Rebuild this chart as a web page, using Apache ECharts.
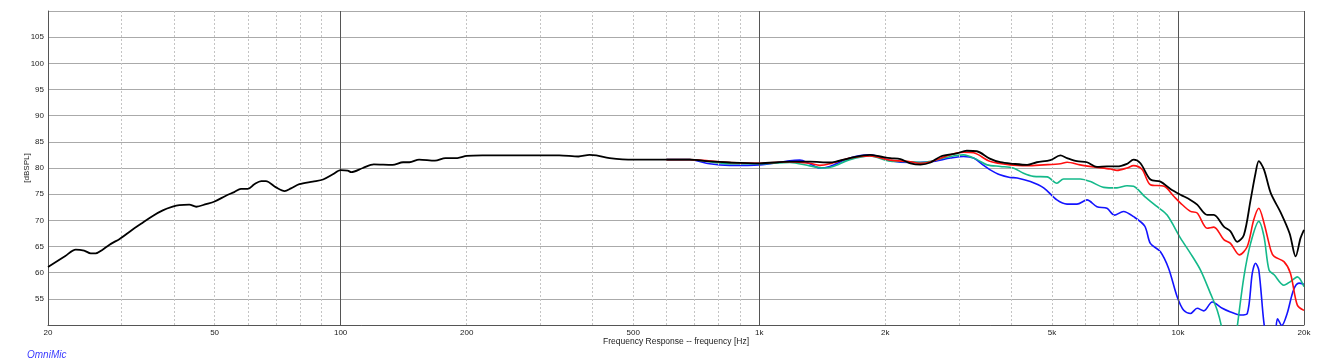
<!DOCTYPE html>
<html><head><meta charset="utf-8">
<script src="https://cdn.jsdelivr.net/npm/echarts@6/dist/echarts.min.js"></script>
<style>html,body{margin:0;padding:0;background:#fff}#c{width:1317px;height:362px}</style>
</head><body><div id="c"></div>
<script>
// ---- data ----
const xTickValues = [20, 50, 100, 200, 500, 1000, 2000, 5000, 10000, 20000];
const xTickLabels = ['20', '50', '100', '200', '500', '1k', '2k', '5k', '10k', '20k'];
const majorGridFreqs = [100, 1000, 10000, 20000];
const minorGridFreqs = [30, 40, 50, 60, 70, 80, 90, 200, 300, 400, 500, 600, 700, 800, 900,
  2000, 3000, 4000, 5000, 6000, 7000, 8000, 9000];

const blackFreq = [20, 22, 23.3, 24.4, 25.3, 26, 27, 28, 29.6, 30, 31.8, 33.6, 35.5, 37.6, 39.7, 41.2, 43.5, 45.2, 47.7, 50,
  53.2, 55.7, 57.8, 60, 62.2, 64.6, 66.3, 70.1, 73.5, 76.1, 79.7, 85.8, 90.8, 95.8, 100, 104, 106, 113, 120, 133, 141, 146,
  154, 168, 178, 190, 200, 218, 246, 286, 300, 333, 370, 393, 408, 439, 500, 558, 623, 682, 761, 850, 1000, 1183, 1320,
  1474, 1646, 1838, 1945, 2056, 2173, 2296, 2427, 2565, 2711, 2963, 3130, 3308, 3552, 3765, 4040, 4363, 4601, 4956, 5238,
  5433, 5738, 6063, 6406, 6768, 7150, 7555, 7834, 8135, 8594, 9080, 9595, 10140, 10710, 11115, 11740, 12180, 12870, 13350,
  13850, 14370, 14910, 15320, 15600, 16050, 16660, 17620, 18480, 19100, 19620, 20000];
const blackSPL = [61.1, 63.2, 64.4, 64.2, 63.7, 63.7, 64.4, 65.3, 66.4, 66.7, 68.2, 69.5, 70.8, 71.9, 72.6, 72.9, 73.0, 72.6, 73.1, 73.6,
  74.7, 75.4, 76.0, 76.0, 76.9, 77.5, 77.5, 76.3, 75.6, 76.1, 76.9, 77.4, 77.8, 78.8, 79.6, 79.5, 79.2, 80.0, 80.7, 80.6, 81.1, 81.1,
  81.6, 81.4, 81.9, 81.9, 82.3, 82.4, 82.4, 82.4, 82.4, 82.4, 82.2, 82.5, 82.4, 81.9, 81.6, 81.6, 81.6, 81.6, 81.25, 81.05, 80.9, 81.2, 81.2,
  81.05, 81.9, 82.5, 82.2, 81.9, 81.7, 80.9, 80.65, 81.05, 82.2, 82.8, 83.3, 83.2, 81.8, 81.1, 80.8, 80.6, 81.1, 81.5, 82.4,
  81.9, 81.3, 81.1, 80.2, 80.3, 80.3, 80.8, 81.6, 80.9, 77.8, 77.4, 76.0, 74.9, 73.9, 73.0, 71.05, 71.05, 68.8, 67.9,
  65.9, 67.2, 73.9, 79.0, 81.3, 79.7, 75.2, 71.4, 67.5, 63.1, 66.6, 68.2];

const redFreq = [600, 682, 850, 1000, 1183, 1320, 1394, 1474, 1646, 1838, 2056, 2296, 2427, 2565, 2864, 3074, 3250, 3552, 3976,
  4363, 4777, 5238, 5433, 5835, 6299, 6896, 7150, 7555, 7834, 8212, 8594, 9270, 9785, 10140, 10710, 11115, 11740, 12180, 12870,
  13350, 14020, 14640, 15170, 15600, 16050, 16660, 16970, 17910, 18560, 19280, 20000];
const redSPL = [81.6, 81.6, 81.05, 80.9, 81.2, 80.9, 80.5, 80.8, 81.9, 82.3, 81.5, 81.2, 80.9, 81.2, 82.55, 83.0, 82.9, 81.3, 80.6,
  80.45, 80.6, 80.8, 81.1, 80.6, 80.2, 79.8, 79.55, 80.0, 80.45, 79.7, 76.8, 76.5, 74.55, 73.3, 71.7, 71.4, 68.5, 68.7, 66.3,
  65.6, 63.4, 65.0, 70.1, 72.3, 69.5, 64.3, 63.1, 62.1, 59.9, 53.8, 52.8];

const greenFreq = [600, 682, 850, 1000, 1183, 1320, 1420, 1500, 1646, 1838, 2056, 2296, 2427, 2565, 2864, 3074, 3313, 3500, 3765,
  4040, 4277, 4518, 4870, 5138, 5330, 5835, 6184, 6650, 7150, 7555, 7834, 8330, 8920, 9420, 10140, 10710, 11320, 11960, 12410,
  12760, 13000, 13600, 13850, 14370, 14910, 15600, 16050, 16500, 16970, 17910, 18560, 19280, 20000];
const greenSPL = [81.6, 81.6, 80.8, 80.8, 81.05, 80.4, 80.0, 80.3, 81.6, 82.3, 81.3, 81.2, 81.05, 81.3, 82.2, 82.5, 81.6, 80.6, 80.3,
  80.0, 79.0, 78.4, 78.3, 77.1, 77.9, 77.9, 77.4, 76.3, 76.2, 76.6, 76.5, 74.55, 72.6, 71.0, 66.6, 63.7, 60.5, 56.0, 52.8,
  49.0, 45.0, 45.0, 49.6, 59.2, 65.6, 69.8, 66.9, 60.5, 59.6, 57.6, 58.3, 59.2, 57.3];

const blueFreq = [600, 682, 761, 850, 1000, 1183, 1250, 1320, 1394, 1474, 1646, 1838, 2056, 2296, 2565, 2864, 3074, 3250, 3420,
  3552, 3756, 3970, 4130, 4440, 4777, 5138, 5433, 5738, 6063, 6406, 6768, 7050, 7410, 7834, 8330, 8590, 9080, 9500, 9955,
  10320, 10710, 11115, 11530, 12070, 12760, 13350, 14110, 14640, 15050, 15320, 15600, 16050, 16340, 16970, 17290, 17700,
  18230, 18880, 19450, 20000];
const blueSPL = [81.6, 81.6, 80.8, 80.5, 80.6, 81.4, 81.5, 80.8, 80.0, 80.3, 81.9, 82.5, 81.4, 81.05, 81.2, 81.9, 82.2, 81.9, 80.6,
  79.7, 78.7, 78.2, 78.1, 77.4, 76.2, 73.9, 73.1, 73.1, 73.9, 72.6, 72.3, 71.0, 71.7, 70.7, 68.9, 65.6, 64.0, 60.8, 55.4,
  52.8, 52.2, 53.2, 52.7, 54.4, 53.2, 52.5, 51.9, 52.2, 59.9, 61.8, 60.5, 50.3, 47.7, 47.7, 51.2, 49.9,
  52.2, 56.7, 58.0, 57.8];

const yMin = 50, yMax = 110, yStep = 5;

// ---- chart ----
const zip = (a, b) => a.map((v, i) => [v, b[i]]);
const chart = echarts.init(document.getElementById('c'), null, {renderer: 'canvas'});
const FONT = 'Liberation Sans, Arial, sans-serif';
function curve(name, f, s, color, z, w) {
  return {name, type: 'line', data: zip(f, s), showSymbol: false, symbol: 'none', smooth: 0.3,
    clip: true, z, lineStyle: {color, width: w}, animation: false};
}
chart.setOption({
  animation: false,
  grid: {left: 48, right: 13, top: 11, bottom: 37},
  title: {text: 'OmniMic', left: 22, top: 345,
    textStyle: {color: '#3a3aff', fontStyle: 'italic', fontWeight: 'normal', fontSize: 10, fontFamily: FONT}},
  xAxis: {
    type: 'log', logBase: 10, min: 20, max: 20000,
    name: 'Frequency Response -- frequency [Hz]', nameLocation: 'middle', nameGap: 12, nameMoveOverlap: false,
    nameTextStyle: {fontSize: 8.5, color: '#222', fontFamily: FONT},
    axisLine: {show: true, lineStyle: {color: '#555', width: 1}},
    axisTick: {show: false},
    splitLine: {show: false},
    axisLabel: {customValues: xTickValues, fontSize: 8, color: '#222', margin: 4, fontFamily: FONT,
      formatter: v => { const i = xTickValues.findIndex(t => Math.abs(t - v) / t < 1e-6); return i >= 0 ? xTickLabels[i] : ''; }}
  },
  yAxis: {
    type: 'value', min: yMin, max: yMax, interval: yStep,
    name: '[dBSPL]', nameLocation: 'middle', nameGap: 17, nameRotate: 90, nameMoveOverlap: false,
    nameTextStyle: {fontSize: 8, color: '#222', fontFamily: FONT},
    axisLine: {show: true, lineStyle: {color: '#555', width: 1}},
    axisTick: {show: false},
    splitLine: {show: true, lineStyle: {color: '#aaaaaa', width: 1}},
    axisLabel: {fontSize: 8, color: '#222', margin: 4, fontFamily: FONT,
      formatter: v => (v === yMin || v === yMax) ? '' : String(v)}
  },
  series: [
    {type: 'line', data: [], z: 1, silent: true,
      markLine: {silent: true, symbol: 'none', animation: false, label: {show: false},
        data: minorGridFreqs.map(f => ({xAxis: f, lineStyle: {color: '#c4c4c4', width: 1, type: [2, 2]}}))
          .concat(majorGridFreqs.map(f => ({xAxis: f, lineStyle: {color: '#555', width: 1, type: 'solid'}})))}},
    curve('blue', blueFreq, blueSPL, '#1414ff', 3, 1.6),
    curve('green', greenFreq, greenSPL, '#14b98a', 4, 1.6),
    curve('red', redFreq, redSPL, '#ff1010', 5, 1.6),
    curve('black', blackFreq, blackSPL, '#000000', 6, 1.8)
  ]
});
</script></body></html>
